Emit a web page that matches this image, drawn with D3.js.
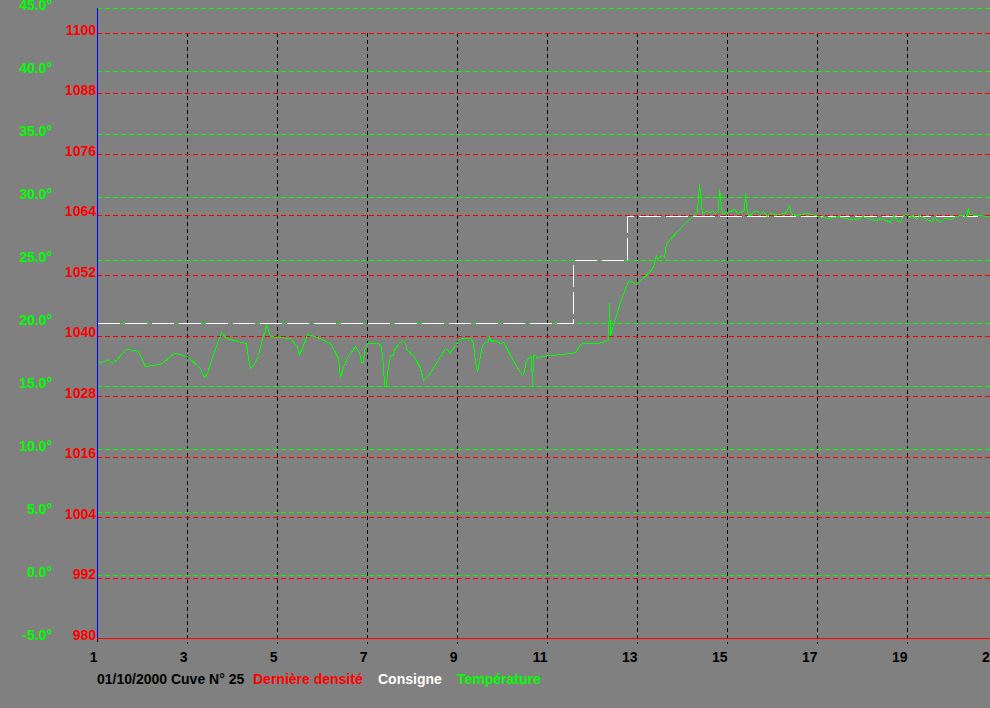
<!DOCTYPE html>
<html>
<head>
<meta charset="utf-8">
<script src="https://cdn.jsdelivr.net/npm/d3@7"></script>
<style>
  html, body { margin: 0; padding: 0; background: #808080; overflow: hidden; }
  svg { display: block; }
  text { font-family: "Liberation Sans", Arial, sans-serif; font-weight: bold; font-size: 14px; }
</style>
</head>
<body>
<svg id="chart" width="990" height="708"></svg>
<script>
// ---- Data ----
const headerText = "01/10/2000 Cuve N° 25";
const legendLabels = ["Dernière densité", "Consigne", "Température"];

const xTicks = [1, 3, 5, 7, 9, 11, 13, 15, 17, 19, 21];
const tempTicks = [-5, 0, 5, 10, 15, 20, 25, 30, 35, 40, 45];
const densityTicks = [980, 992, 1004, 1016, 1028, 1040, 1052, 1064, 1076, 1088, 1100];

// Consigne (set point, °C) — step series
const consigneTime = [1, 11.58, 12.78, 20.56];
const consigneValue = [20, 25, 28.5, 28.5];

// Dernière densité — no readings visible in the picture
const densityTime = [];
const densityValue = [];

// Température (°C)
const tempTime = [
  1.000, 1.067, 1.178, 1.244, 1.333, 1.444, 1.556, 1.644, 1.844, 1.911,
  2.022, 2.067, 2.400, 2.467, 2.622, 2.711, 3.000, 3.289, 3.378, 3.444,
  3.533, 3.667, 3.756, 3.867, 4.222, 4.311, 4.356, 4.400, 4.489, 4.578,
  4.667, 4.733, 4.756, 4.800, 4.844, 5.000, 5.289, 5.444, 5.489, 5.556,
  5.667, 5.889, 6.178, 6.289, 6.356, 6.400, 6.467, 6.578, 6.622, 6.733,
  6.822, 6.867, 6.911, 6.933, 7.000, 7.244, 7.311, 7.356, 7.378, 7.422,
  7.444, 7.489, 7.511, 7.578, 7.600, 7.667, 7.778, 7.844, 7.889, 8.000,
  8.089, 8.178, 8.244, 8.356, 8.467, 8.622, 8.733, 8.800, 8.822, 8.889,
  8.956, 9.022, 9.089, 9.289, 9.356, 9.378, 9.422, 9.444, 9.467, 9.511,
  9.556, 9.622, 9.689, 9.711, 9.756, 9.844, 9.956, 10.022, 10.067, 10.178,
  10.289, 10.400, 10.444, 10.489, 10.511, 10.578, 10.644, 10.667, 10.689, 10.733,
  10.778, 10.844, 11.111, 11.311, 11.511, 11.622, 11.733, 11.800, 12.111, 12.289,
  12.356, 12.378, 12.400, 12.511, 12.667, 12.778, 12.822, 12.978, 13.067, 13.289,
  13.356, 13.400, 13.422, 13.444, 13.556, 13.600, 13.644, 13.711, 13.911, 14.089,
  14.267, 14.333, 14.378, 14.400, 14.444, 14.511, 14.622, 14.667, 14.733, 14.800,
  14.822, 14.844, 14.889, 14.956, 15.067, 15.156, 15.222, 15.289, 15.378, 15.400,
  15.422, 15.467, 15.556, 15.644, 15.733, 15.800, 15.889, 15.956, 16.089, 16.289,
  16.378, 16.422, 16.511, 16.622, 16.756, 16.889, 17.022, 17.222, 17.356, 17.467,
  17.733, 17.889, 18.000, 18.133, 18.311, 18.400, 18.533, 18.622, 18.689, 18.778,
  18.844, 18.911, 18.978, 19.044, 19.133, 19.200, 19.289, 19.378, 19.533, 19.600,
  19.733, 19.822, 20.000, 20.067, 20.222, 20.311, 20.356, 20.378, 20.533, 20.844
];
const tempValue = [
  16.98, 16.90, 16.98, 17.14, 16.83, 17.14, 17.62, 17.94, 17.86, 17.78,
  16.90, 16.59, 16.75, 16.90, 17.38, 17.62, 17.38, 16.43, 15.71, 16.03,
  17.06, 18.41, 19.29, 18.81, 18.49, 18.41, 17.22, 16.43, 16.75, 17.46,
  18.81, 19.44, 19.92, 19.44, 18.97, 18.89, 18.81, 18.17, 17.54, 18.02,
  19.13, 18.89, 18.41, 17.70, 17.22, 15.71, 16.51, 17.46, 17.62, 18.17,
  17.70, 16.90, 16.90, 17.86, 18.41, 18.41, 18.10, 16.67, 15.00, 15.00,
  16.11, 16.90, 17.46, 17.46, 17.86, 18.25, 18.65, 18.41, 17.86, 17.54,
  17.06, 16.43, 15.48, 15.87, 16.43, 17.38, 18.02, 17.86, 17.62, 17.94,
  18.25, 18.57, 18.81, 18.81, 18.49, 17.46, 16.59, 16.27, 16.43, 17.46,
  18.25, 18.49, 18.57, 18.89, 18.57, 18.65, 18.41, 18.49, 18.25, 17.46,
  16.75, 16.11, 15.87, 16.11, 16.83, 17.22, 17.38, 15.00, 17.46, 17.46,
  17.22, 17.38, 17.46, 17.54, 17.62, 17.70, 18.33, 18.41, 18.41, 18.57,
  18.65, 21.59, 19.05, 20.40, 22.14, 23.17, 23.41, 23.10, 23.41, 24.13,
  24.52, 25.08, 25.40, 25.08, 25.40, 25.24, 26.35, 26.59, 27.38, 28.02,
  28.65, 28.81, 31.03, 30.32, 28.73, 28.89, 28.81, 28.97, 28.73, 28.97,
  30.71, 30.00, 28.65, 28.81, 28.89, 29.05, 28.73, 28.81, 28.97, 30.32,
  29.29, 28.57, 28.73, 28.97, 28.65, 28.89, 28.49, 28.73, 28.65, 28.73,
  29.29, 28.73, 28.57, 28.65, 28.73, 28.65, 28.49, 28.33, 28.41, 28.49,
  28.25, 28.25, 28.49, 28.33, 28.17, 28.33, 28.17, 28.02, 28.57, 28.17,
  28.02, 28.57, 28.65, 28.41, 28.57, 28.25, 28.57, 28.33, 28.10, 28.41,
  28.02, 28.33, 28.25, 28.49, 28.57, 28.49, 29.13, 28.65, 28.57, 28.49
];

// ---- Scales ----
const svg = d3.select("#chart");
const x = d3.scaleLinear().domain([1, 21]).range([97.5, 997.5]);
const yT = d3.scaleLinear().domain([-5, 45]).range([638.5, 8.5]);
const yD = d3.scaleLinear().domain([980, 1100]).range([638.5, 33.5]);

const GREEN = "#00ff00", RED = "#ff0000", WHITE = "#ffffff", BLUE = "#0000ff", BLACK = "#000000";

// ---- Vertical grid (dashed black) ----
const gV = svg.append("g").attr("shape-rendering", "crispEdges");
gV.selectAll("line").data(xTicks).join("line")
  .attr("x1", d => Math.floor(x(d)) + 0.5).attr("x2", d => Math.floor(x(d)) + 0.5)
  .attr("y1", d => d === 1 ? 638 : yD(1100) - 0.5).attr("y2", 644)
  .attr("stroke", BLACK).attr("stroke-dasharray", "4,3");

// ---- Horizontal grids ----
const gH = svg.append("g").attr("shape-rendering", "crispEdges");
gH.selectAll("line.t").data(tempTicks.filter(d => d > -5)).join("line")
  .attr("class", "t")
  .attr("x1", 97).attr("x2", 990)
  .attr("y1", d => Math.floor(yT(d)) + 0.5).attr("y2", d => Math.floor(yT(d)) + 0.5)
  .attr("stroke", GREEN).attr("stroke-dasharray", "5,3");
gH.selectAll("line.d").data(densityTicks.filter(d => d > 980)).join("line")
  .attr("class", "d")
  .attr("x1", 97).attr("x2", 990)
  .attr("y1", d => Math.floor(yD(d)) + 0.5).attr("y2", d => Math.floor(yD(d)) + 0.5)
  .attr("stroke", RED).attr("stroke-dasharray", "5,3");

// ---- Axes lines ----
svg.append("line").attr("shape-rendering", "crispEdges")
  .attr("x1", 97).attr("x2", 990).attr("y1", Math.floor(yD(980)) + 0.5).attr("y2", Math.floor(yD(980)) + 0.5)
  .attr("stroke", RED);
svg.append("line").attr("shape-rendering", "crispEdges")
  .attr("x1", Math.floor(x(1)) + 0.5).attr("x2", Math.floor(x(1)) + 0.5)
  .attr("y1", yT(45) - 0.5).attr("y2", 638)
  .attr("stroke", BLUE);

// ---- Axis labels ----
svg.append("g").selectAll("text").data(tempTicks).join("text")
  .attr("x", 52).attr("y", d => yT(d) + 1)
  .attr("text-anchor", "end").attr("fill", GREEN)
  .text(d => d.toFixed(1) + "°");
svg.append("g").selectAll("text").data(densityTicks).join("text")
  .attr("x", 96).attr("y", d => yD(d) + 1)
  .attr("text-anchor", "end").attr("fill", RED)
  .text(d => d);
svg.append("g").selectAll("text").data(xTicks).join("text")
  .attr("x", d => x(d)).attr("y", 662)
  .attr("text-anchor", "end").attr("fill", BLACK)
  .text(d => d);

// ---- Series ----
const consigneLine = d3.line().curve(d3.curveStepAfter)
  .x(d => Math.floor(x(d[0])) + 0.5).y(d => Math.floor(yT(d[1])) + 0.5);
svg.append("path")
  .datum(consigneTime.map((t, i) => [t, consigneValue[i]]))
  .attr("d", consigneLine)
  .attr("fill", "none").attr("stroke", WHITE).attr("stroke-width", 1)
  .attr("stroke-dasharray", "22,5").attr("shape-rendering", "crispEdges");

const densityLine = d3.line().x(d => x(d[0])).y(d => yD(d[1]));
svg.append("path")
  .datum(densityTime.map((t, i) => [t, densityValue[i]]))
  .attr("d", densityLine)
  .attr("fill", "none").attr("stroke", RED);

const tempLine = d3.line().x(d => x(d[0])).y(d => yT(d[1]));
svg.append("path")
  .datum(tempTime.map((t, i) => [t, tempValue[i]]))
  .attr("d", tempLine)
  .attr("fill", "none").attr("stroke", GREEN).attr("stroke-width", 1)
  .attr("shape-rendering", "crispEdges");

// ---- Legend ----
const legend = svg.append("g");
legend.append("text").attr("x", 97).attr("y", 684).attr("fill", BLACK).text(headerText);
const legendX = [253, 378, 457];
const legendColors = [RED, WHITE, GREEN];
legend.selectAll("text.l").data(legendLabels).join("text")
  .attr("class", "l")
  .attr("x", (d, i) => legendX[i]).attr("y", 684)
  .attr("fill", (d, i) => legendColors[i])
  .text(d => d);
</script>
</body>
</html>
